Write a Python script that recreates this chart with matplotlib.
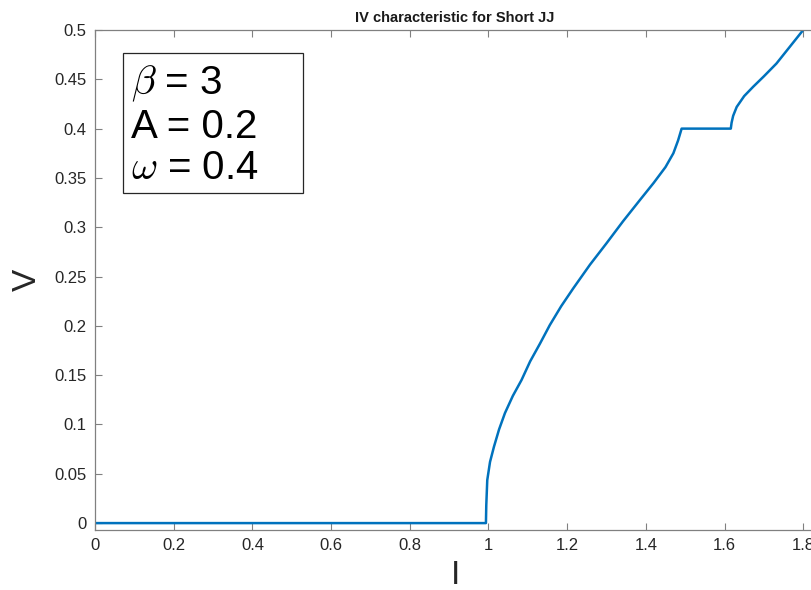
import matplotlib.pyplot as plt
from matplotlib.patches import Rectangle

plt.rcParams['font.family'] = ['Liberation Sans', 'DejaVu Sans']
plt.rcParams['mathtext.fontset'] = 'cm'

# IV curve
current = [0.0, 0.9936, 0.9945, 0.997, 1.004, 1.014, 1.027, 1.042, 1.062, 1.084, 1.106,
           1.131, 1.156, 1.185, 1.2155, 1.258, 1.300, 1.342, 1.385, 1.42, 1.45, 1.47,
           1.482, 1.488, 1.491, 1.616, 1.618, 1.622, 1.631, 1.650, 1.673, 1.700,
           1.732, 1.766, 1.800]
voltage = [0.0, 0.0, 0.018, 0.0436, 0.062, 0.0774, 0.095, 0.1116, 0.129, 0.145, 0.164,
           0.182, 0.2008, 0.220, 0.238, 0.262, 0.2837, 0.306, 0.3276, 0.345, 0.361, 0.375,
           0.388, 0.396, 0.400, 0.400, 0.406, 0.413, 0.422, 0.433, 0.4425, 0.453,
           0.466, 0.483, 0.500]

x_ticks = [0, 0.2, 0.4, 0.6, 0.8, 1, 1.2, 1.4, 1.6, 1.8]
x_tick_labels = ['0', '0.2', '0.4', '0.6', '0.8', '1', '1.2', '1.4', '1.6', '1.8']
y_ticks = [0, 0.05, 0.1, 0.15, 0.2, 0.25, 0.3, 0.35, 0.4, 0.45, 0.5]
y_tick_labels = ['0', '0.05', '0.1', '0.15', '0.2', '0.25', '0.3', '0.35', '0.4', '0.45', '0.5']

fig = plt.figure(figsize=(8.12, 5.90), dpi=100)
ax = fig.add_axes([95 / 812, 60 / 590, 720 / 812, 500 / 590])

ax.plot(current, voltage, color='#0072BD', linewidth=1.8)

ax.set_xlim(0, 1.83)
ax.set_ylim(-0.007, 0.5)
ax.set_xticks(x_ticks)
ax.set_xticklabels(x_tick_labels)
ax.set_yticks(y_ticks)
ax.set_yticklabels(y_tick_labels)
ax.tick_params(direction='in', length=5, width=0.8, color='#808080',
               labelsize=12, labelcolor='#262626', top=True, right=False, pad=6)
for side in ax.spines.values():
    side.set_color('#808080')
    side.set_linewidth(0.9)

ax.set_title('IV characteristic for Short JJ', fontsize=10.5, fontweight='bold',
             color='#1a1a1a', pad=6)
ax.set_xlabel('I', fontsize=24, color='#262626', labelpad=5)
ax.set_ylabel('V', fontsize=24, color='#262626', labelpad=8)

# annotation box
ax.add_patch(Rectangle((0.039, 0.674), 0.25, 0.28, transform=ax.transAxes,
                       facecolor='white', edgecolor='#262626', linewidth=0.9, zorder=3))
ax.text(0.05, 0.932,
        '$\\beta$ = 3\nA = 0.2\n$\\omega$ = 0.4',
        transform=ax.transAxes, fontsize=29, va='top', ha='left',
        linespacing=1.12, color='black', zorder=4)

fig.savefig('out.png', dpi=100)
